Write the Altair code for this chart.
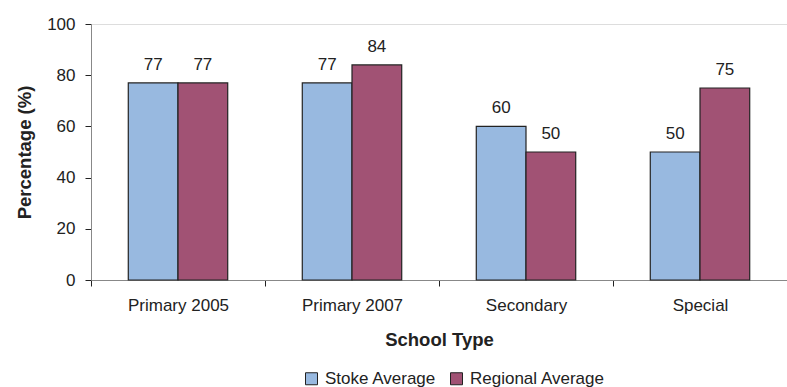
import altair as alt
import pandas as pd

categories = ["Primary 2005", "Primary 2007", "Secondary", "Special"]
series = ["Stoke Average", "Regional Average"]
stoke = [77, 77, 60, 50]
regional = [77, 84, 50, 75]
colors = ["#98B9E0", "#A15274"]

rows = []
for i, c in enumerate(categories):
    rows.append({"School Type": c, "Series": series[0], "Value": stoke[i]})
    rows.append({"School Type": c, "Series": series[1], "Value": regional[i]})
df = pd.DataFrame(rows)

FONT = "Liberation Sans"

x = alt.X("School Type:N", sort=categories,
          scale=alt.Scale(paddingInner=0, paddingOuter=0),
          axis=alt.Axis(title="School Type", labelAngle=0, tickBand="extent",
                        domainColor="#888888", tickColor="#222222", tickSize=6,
                        labelPadding=11, titlePadding=17,
                        labelFontSize=17, titleFontSize=18.5, labelColor="#222222",
                        titleColor="#222222", labelFont=FONT, titleFont=FONT,
                        titleFontWeight="bold"))
xo = alt.XOffset("Series:N", sort=series,
                 scale=alt.Scale(paddingInner=0, paddingOuter=0.75))

bars = alt.Chart(df).mark_bar(stroke="#222222", strokeWidth=1.2).encode(
    x=x,
    xOffset=xo,
    y=alt.Y("Value:Q", scale=alt.Scale(domain=[0, 100]),
            axis=alt.Axis(title="Percentage (%)", values=[0, 20, 40, 60, 80, 100],
                          grid=False, domainColor="#888888", tickColor="#222222",
                          tickSize=6, labelPadding=10, titlePadding=12,
                          labelFontSize=17, titleFontSize=18.5, labelColor="#222222",
                          titleColor="#222222", labelFont=FONT, titleFont=FONT,
                          titleFontWeight="bold")),
    color=alt.Color("Series:N", sort=series,
                    scale=alt.Scale(domain=series, range=colors),
                    legend=alt.Legend(title=None, orient="none", direction="horizontal",
                                      legendX=212, legendY=346, symbolType="square",
                                      symbolSize=144, symbolStrokeColor="#222222",
                                      symbolStrokeWidth=1, labelFontSize=17,
                                      labelFont=FONT, labelColor="#222222",
                                      columnPadding=11, symbolOffset=0, labelOffset=5)),
)

labels = alt.Chart(df).mark_text(dy=-13, baseline="alphabetic", fontSize=17,
                                 font=FONT, color="#222222").encode(
    x=x,
    xOffset=xo,
    y=alt.Y("Value:Q"),
    text=alt.Text("Value:Q"),
)

chart = alt.layer(bars, labels).properties(
    width=696, height=256,
    autosize=alt.AutoSizeParams(type="none"),
    padding={"left": 91, "top": 24, "right": 0, "bottom": 107},
).configure_view(stroke=None).configure(background="white")

chart.save("out.html", embed_options={"renderer": "svg", "actions": False})
